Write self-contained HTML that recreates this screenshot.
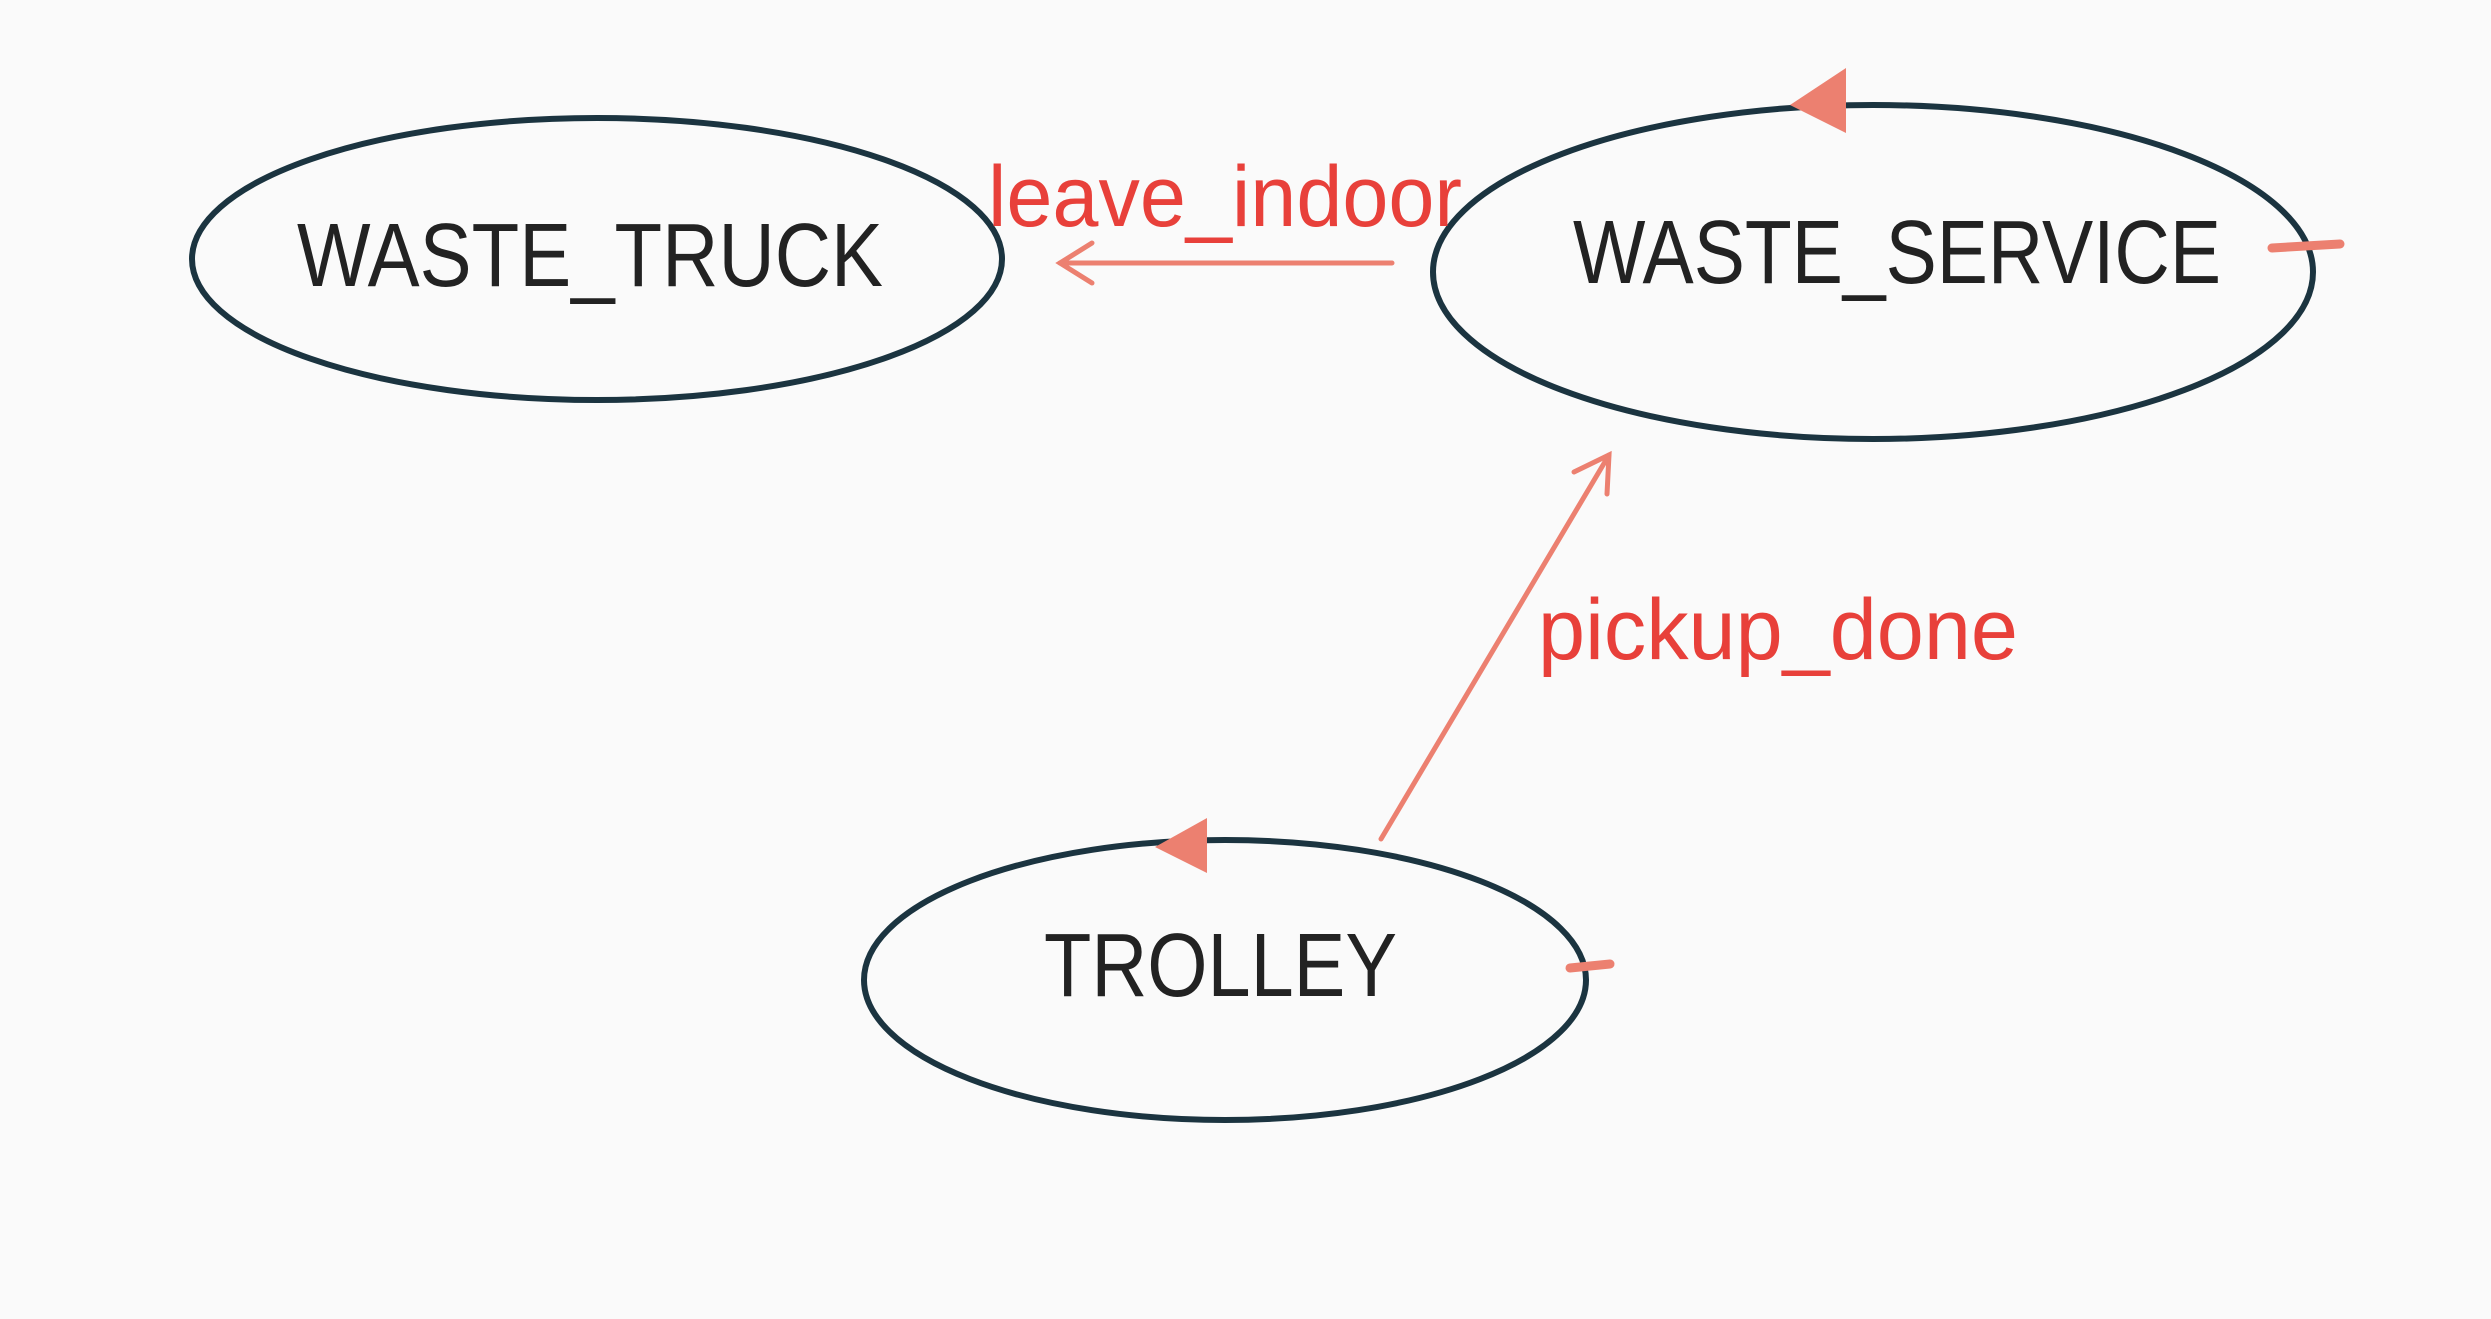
<!DOCTYPE html>
<html><head><meta charset="utf-8"><style>
html,body{margin:0;padding:0;background:#fafafa;}
svg{display:block;}
text{font-family:"Liberation Sans",sans-serif;}
</style></head><body>
<svg width="2491" height="1319" viewBox="0 0 2491 1319" xmlns="http://www.w3.org/2000/svg">
<rect width="2491" height="1319" fill="#fafafa"/>
<g fill="none" stroke="#1b3440" stroke-width="6">
<ellipse cx="597" cy="259" rx="405" ry="141"/>
<ellipse cx="1873" cy="272" rx="440" ry="167"/>
<ellipse cx="1225" cy="980" rx="361" ry="140"/>
</g>
<g fill="#222" font-size="90">
<text x="297" y="286" textLength="586" lengthAdjust="spacingAndGlyphs">WASTE_TRUCK</text>
<text x="1573" y="283" textLength="648" lengthAdjust="spacingAndGlyphs">WASTE_SERVICE</text>
<text x="1044" y="996" textLength="353" lengthAdjust="spacingAndGlyphs">TROLLEY</text>
</g>
<g stroke="#ec8070" stroke-width="5" fill="none" stroke-linecap="round">
<line x1="1392" y1="263" x2="1060" y2="263"/>
<polyline points="1092,243 1060,263 1092,283"/>
<line x1="1381" y1="839" x2="1609" y2="455"/>
<polyline points="1574,472 1609,455 1607,494"/>
<path d="M2272,248 L2340,244" stroke-width="9"/>
<path d="M1570,968 L1610,964" stroke-width="9"/>
</g>
<g fill="#ec8070">
<polygon points="1790,105 1846,68 1846,133"/>
<polygon points="1155,847 1207,818 1207,873"/>
</g>
<g fill="#e8403a" font-size="86">
<text x="988" y="226" textLength="474" lengthAdjust="spacingAndGlyphs">leave_indoor</text>
<text x="1538" y="659" textLength="480" lengthAdjust="spacingAndGlyphs">pickup_done</text>
</g>
</svg>
</body></html>
